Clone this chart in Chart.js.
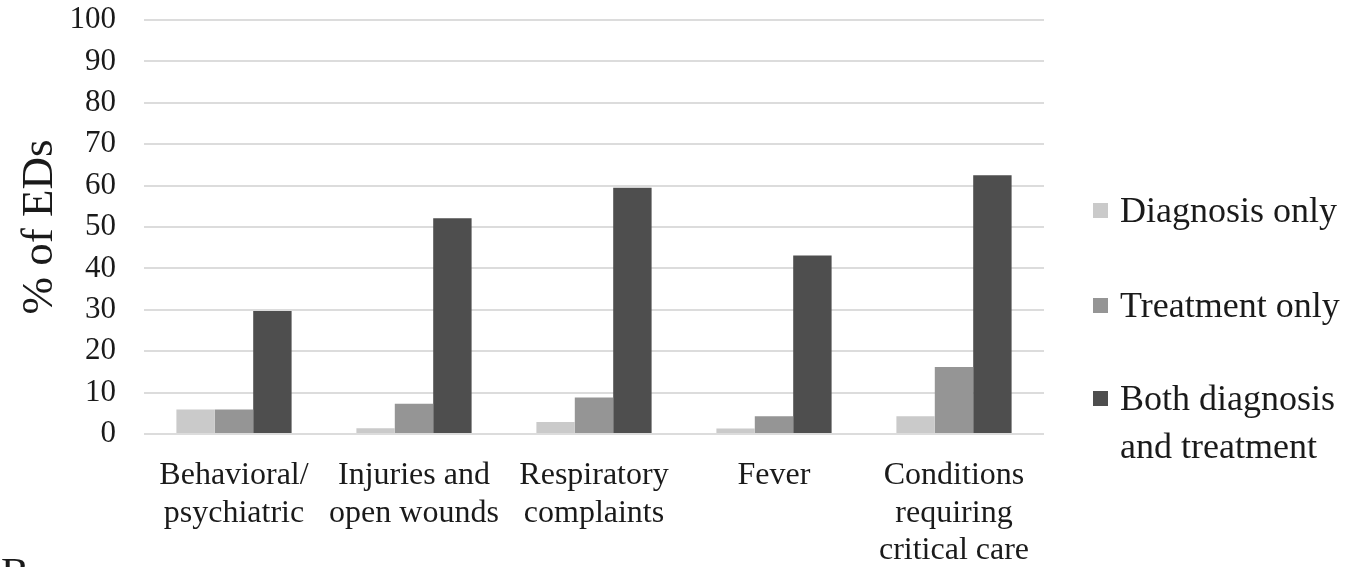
<!DOCTYPE html>
<html>
<head>
<meta charset="utf-8">
<script src="https://cdn.jsdelivr.net/npm/chart.js@4/dist/chart.umd.min.js"></script>
<style>
  html, body { margin: 0; padding: 0; background: #ffffff; overflow: hidden; }
  #wrap { position: relative; width: 1355px; height: 567px; overflow: hidden; }
  #panel { position: absolute; left: 1px; top: 552px; font-family: "Liberation Serif", serif; font-size: 42px; line-height: 42px; color: #1a1a1a; }
</style>
</head>
<body>
<div id="wrap">
  <canvas id="c" width="1355" height="567"></canvas>
  <div id="panel">B</div>
</div>
<script>
const categories = [
  ["Behavioral/", "psychiatric"],
  ["Injuries and", "open wounds"],
  ["Respiratory", "complaints"],
  ["Fever"],
  ["Conditions", "requiring", "critical care"]
];
const seriesNames = ["Diagnosis only", "Treatment only", ["Both diagnosis", "and treatment"]];
const diagnosisOnly = [5.9, 1.4, 2.9, 1.3, 4.3];
const treatmentOnly = [5.9, 7.3, 8.8, 4.3, 16.2];
const bothDiagTreat = [29.7, 52.1, 59.5, 43.1, 62.5];
const yTicks = [0, 10, 20, 30, 40, 50, 60, 70, 80, 90, 100];

const colors = ["#cacaca", "#959595", "#4e4e4e"];
const FONT = "'Liberation Serif', 'Times New Roman', serif";
const TEXT = "#1a1a1a";

const legendPlugin = {
  id: "sideLegend",
  afterDraw(chart) {
    const ctx = chart.ctx;
    const x0 = 1093, tx = 1120;
    const baselines = [222, 317, 410];
    const lineStep = 48;
    ctx.save();
    ctx.font = "36px " + FONT;
    ctx.textBaseline = "alphabetic";
    ctx.textAlign = "left";
    chart.data.datasets.forEach((ds, i) => {
      const b = baselines[i];
      ctx.fillStyle = ds.backgroundColor;
      ctx.fillRect(x0, b - 19, 15, 15);
      ctx.fillStyle = TEXT;
      const lines = Array.isArray(ds.label) ? ds.label : [ds.label];
      lines.forEach((ln, j) => ctx.fillText(ln, tx, b + j * lineStep));
    });
    ctx.restore();
  }
};

new Chart(document.getElementById("c"), {
  type: "bar",
  data: {
    labels: categories,
    datasets: [
      { label: seriesNames[0], data: diagnosisOnly, backgroundColor: colors[0] },
      { label: seriesNames[1], data: treatmentOnly, backgroundColor: colors[1] },
      { label: seriesNames[2], data: bothDiagTreat, backgroundColor: colors[2] }
    ]
  },
  options: {
    responsive: false,
    animation: false,
    layout: { padding: { top: 20, right: 311, bottom: 0, left: 0 } },
    datasets: { bar: { categoryPercentage: 0.64, barPercentage: 1.0 } },
    plugins: { legend: { display: false }, tooltip: { enabled: false }, title: { display: false } },
    scales: {
      x: {
        grid: { display: false, drawTicks: false },
        border: { display: false },
        ticks: {
          color: TEXT, padding: 23, maxRotation: 0, autoSkip: false,
          font: { family: FONT, size: 32, lineHeight: 1.17 }
        },
        afterFit(axis) { axis.height = 133; }
      },
      y: {
        min: 0, max: 100,
        afterBuildTicks(axis) { axis.ticks = yTicks.map(v => ({ value: v })); },
        grid: { color: "#dcdcdc", lineWidth: 2, drawTicks: true, tickLength: 28, tickColor: "rgba(0,0,0,0)" },
        border: { display: false },
        ticks: { color: TEXT, padding: 0, autoSkip: false, font: { family: FONT, size: 31 } },
        title: {
          display: true, text: "% of EDs", color: TEXT,
          font: { family: FONT, size: 45, lineHeight: 1.2 },
          padding: { top: 13, bottom: 0 }
        },
        afterFit(axis) { axis.width = 144; }
      }
    }
  },
  plugins: [legendPlugin]
});
</script>
</body>
</html>
